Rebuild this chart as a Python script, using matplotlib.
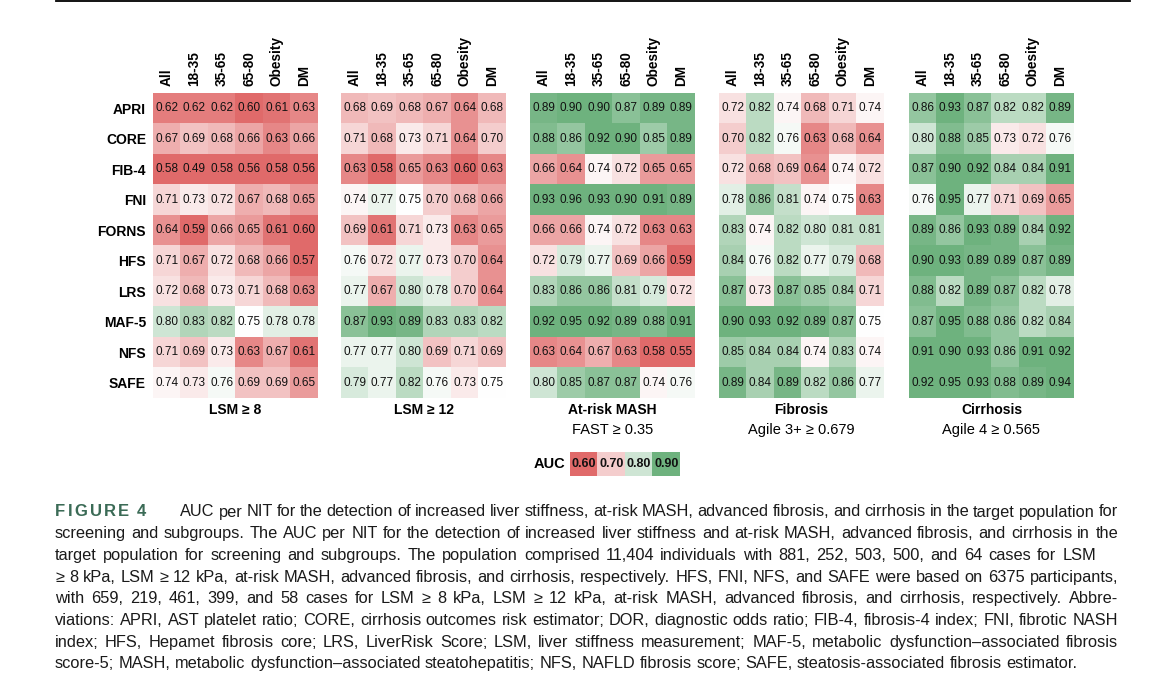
import matplotlib
matplotlib.use('Agg')
import numpy as np
import matplotlib.pyplot as plt
from matplotlib.colors import LinearSegmentedColormap, Normalize
from matplotlib.lines import Line2D

# data
nits = ['APRI', 'CORE', 'FIB-4', 'FNI', 'FORNS', 'HFS', 'LRS', 'MAF-5', 'NFS', 'SAFE']
groups = ['All', '18-35', '35-65', '65-80', 'Obesity', 'DM']

lsm8 = [[0.62, 0.62, 0.62, 0.60, 0.61, 0.63],
        [0.67, 0.69, 0.68, 0.66, 0.63, 0.66],
        [0.58, 0.49, 0.58, 0.56, 0.58, 0.56],
        [0.71, 0.73, 0.72, 0.67, 0.68, 0.65],
        [0.64, 0.59, 0.66, 0.65, 0.61, 0.60],
        [0.71, 0.67, 0.72, 0.68, 0.66, 0.57],
        [0.72, 0.68, 0.73, 0.71, 0.68, 0.63],
        [0.80, 0.83, 0.82, 0.75, 0.78, 0.78],
        [0.71, 0.69, 0.73, 0.63, 0.67, 0.61],
        [0.74, 0.73, 0.76, 0.69, 0.69, 0.65]]

lsm12 = [[0.68, 0.69, 0.68, 0.67, 0.64, 0.68],
         [0.71, 0.68, 0.73, 0.71, 0.64, 0.70],
         [0.63, 0.58, 0.65, 0.63, 0.60, 0.63],
         [0.74, 0.77, 0.75, 0.70, 0.68, 0.66],
         [0.69, 0.61, 0.71, 0.73, 0.63, 0.65],
         [0.76, 0.72, 0.77, 0.73, 0.70, 0.64],
         [0.77, 0.67, 0.80, 0.78, 0.70, 0.64],
         [0.87, 0.93, 0.89, 0.83, 0.83, 0.82],
         [0.77, 0.77, 0.80, 0.69, 0.71, 0.69],
         [0.79, 0.77, 0.82, 0.76, 0.73, 0.75]]

mash = [[0.89, 0.90, 0.90, 0.87, 0.89, 0.89],
        [0.88, 0.86, 0.92, 0.90, 0.85, 0.89],
        [0.66, 0.64, 0.74, 0.72, 0.65, 0.65],
        [0.93, 0.96, 0.93, 0.90, 0.91, 0.89],
        [0.66, 0.66, 0.74, 0.72, 0.63, 0.63],
        [0.72, 0.79, 0.77, 0.69, 0.66, 0.59],
        [0.83, 0.86, 0.86, 0.81, 0.79, 0.72],
        [0.92, 0.95, 0.92, 0.89, 0.88, 0.91],
        [0.63, 0.64, 0.67, 0.63, 0.58, 0.55],
        [0.80, 0.85, 0.87, 0.87, 0.74, 0.76]]

fibrosis = [[0.72, 0.82, 0.74, 0.68, 0.71, 0.74],
            [0.70, 0.82, 0.76, 0.63, 0.68, 0.64],
            [0.72, 0.68, 0.69, 0.64, 0.74, 0.72],
            [0.78, 0.86, 0.81, 0.74, 0.75, 0.63],
            [0.83, 0.74, 0.82, 0.80, 0.81, 0.81],
            [0.84, 0.76, 0.82, 0.77, 0.79, 0.68],
            [0.87, 0.73, 0.87, 0.85, 0.84, 0.71],
            [0.90, 0.93, 0.92, 0.89, 0.87, 0.75],
            [0.85, 0.84, 0.84, 0.74, 0.83, 0.74],
            [0.89, 0.84, 0.89, 0.82, 0.86, 0.77]]

cirrhosis = [[0.86, 0.93, 0.87, 0.82, 0.82, 0.89],
             [0.80, 0.88, 0.85, 0.73, 0.72, 0.76],
             [0.87, 0.90, 0.92, 0.84, 0.84, 0.91],
             [0.76, 0.95, 0.77, 0.71, 0.69, 0.65],
             [0.89, 0.86, 0.93, 0.89, 0.84, 0.92],
             [0.90, 0.93, 0.89, 0.89, 0.87, 0.89],
             [0.88, 0.82, 0.89, 0.87, 0.82, 0.78],
             [0.87, 0.95, 0.88, 0.86, 0.82, 0.84],
             [0.91, 0.90, 0.93, 0.86, 0.91, 0.92],
             [0.92, 0.95, 0.93, 0.88, 0.89, 0.94]]

panels = [lsm8, lsm12, mash, fibrosis, cirrhosis]
titles = ['LSM ≥ 8', 'LSM ≥ 12', 'At-risk MASH', 'Fibrosis', 'Cirrhosis']
subtitles = ['', '', 'FAST ≥ 0.35', 'Agile 3+ ≥ 0.679', 'Agile 4 ≥ 0.565']
legend_vals = [0.60, 0.70, 0.80, 0.90]

caption = [
    "AUC per NIT for the detection of increased liver stiffness, at-risk MASH, advanced fibrosis, and cirrhosis in the target population for",
    "screening and subgroups. The AUC per NIT for the detection of increased liver stiffness and at-risk MASH, advanced fibrosis, and cirrhosis in the",
    "target population for screening and subgroups. The population comprised 11,404 individuals with 881, 252, 503, 500, and 64 cases for LSM",
    "≥ 8 kPa, LSM ≥ 12 kPa, at-risk MASH, advanced fibrosis, and cirrhosis, respectively. HFS, FNI, NFS, and SAFE were based on 6375 participants,",
    "with 659, 219, 461, 399, and 58 cases for LSM ≥ 8 kPa, LSM ≥ 12 kPa, at-risk MASH, advanced fibrosis, and cirrhosis, respectively. Abbre-",
    "viations: APRI, AST platelet ratio; CORE, cirrhosis outcomes risk estimator; DOR, diagnostic odds ratio; FIB-4, fibrosis-4 index; FNI, fibrotic NASH",
    "index; HFS, Hepamet fibrosis core; LRS, LiverRisk Score; LSM, liver stiffness measurement; MAF-5, metabolic dysfunction–associated fibrosis",
    "score-5; MASH, metabolic dysfunction–associated steatohepatitis; NFS, NAFLD fibrosis score; SAFE, steatosis-associated fibrosis estimator.",
]
# right edge of each caption line (None = ragged)
line_ends = [1118, 1118, 1096, 1118, 1118, 1118, 1118, None]

plt.rcParams['font.family'] = ['Liberation Sans', 'DejaVu Sans']

W, H = 1159, 687
fig = plt.figure(figsize=(W / 100, H / 100), dpi=100)

cmap = LinearSegmentedColormap.from_list('auc', ['#e06a6a', '#ffffff', '#6eb27e'])
norm = Normalize(vmin=0.6, vmax=0.9)


def px_axes(x0, y0, w, h):
    return fig.add_axes([x0 / W, 1 - (y0 + h) / H, w / W, h / H])


lefts = [153, 341, 530, 719, 909]
top, pw, ph = 93, 165, 305

for i, data in enumerate(panels):
    ax = px_axes(lefts[i], top, pw, ph)
    arr = np.array(data)
    ax.imshow(arr, cmap=cmap, norm=norm, aspect='auto', interpolation='nearest')
    for r in range(arr.shape[0]):
        for c in range(arr.shape[1]):
            ax.text(c, r, f'{arr[r, c]:.2f}', ha='center', va='center', fontsize=8.5, color='#111111')
    ax.xaxis.tick_top()
    ax.set_xticks(range(len(groups)))
    ax.set_xticklabels(groups, rotation=90, fontsize=9.8, fontweight='bold')
    ax.set_yticks(range(len(nits)))
    if i == 0:
        ax.set_yticklabels(nits, fontsize=10, fontweight='bold')
    else:
        ax.set_yticklabels([])
    ax.tick_params(length=0, pad=5)
    for s in ax.spines.values():
        s.set_visible(False)
    cx = (lefts[i] + pw / 2) / W
    fig.text(cx, 1 - 410 / H, titles[i], ha='center', va='center', fontsize=10, fontweight='bold')
    if subtitles[i]:
        fig.text(cx, 1 - 430 / H, subtitles[i], ha='center', va='center', fontsize=10.5)

# legend
lax = px_axes(570, 452, 110, 24)
lax.imshow(np.array([legend_vals]), cmap=cmap, norm=norm, aspect='auto')
for k, v in enumerate(legend_vals):
    lax.text(k, 0, f'{v:.2f}', ha='center', va='center', fontsize=9, fontweight='bold', color='#111111')
lax.axis('off')
fig.text(565 / W, 1 - 464 / H, 'AUC', ha='right', va='center', fontsize=10.5, fontweight='bold')

# top rule
fig.add_artist(Line2D([56 / W, 1130 / W], [1 - 1 / H, 1 - 1 / H], color='black', lw=1.3))

# caption
renderer = fig.canvas.get_renderer()


def width_of(s, **kw):
    t = fig.text(0, 0, s, **kw)
    w = t.get_window_extent(renderer).width
    t.remove()
    return w


def place_words(words, x0, y, x1=None, gap=None, **kw):
    widths = [width_of(w, **kw) for w in words]
    if x1 is not None and len(words) > 1:
        gap = (x1 - x0 - sum(widths)) / (len(words) - 1)
    x = x0
    for w, wd in zip(words, widths):
        fig.text(x / W, 1 - y / H, w, ha='left', va='center', **kw)
        x += wd + gap


cap_kw = dict(fontsize=11.8, color='#1a1a1a')
space = width_of('x x', **cap_kw) - width_of('xx', **cap_kw)

# letter-spaced figure label
fig_kw = dict(fontsize=12, fontweight='bold', color='#3b6b56')
x = 55
for ch in 'FIGURE 4':
    if ch != ' ':
        fig.text(x / W, 1 - 512 / H, ch, ha='left', va='center', **fig_kw)
        x += width_of(ch, **fig_kw) + 2.3
    else:
        x += 5

y = 512
for j, line in enumerate(caption):
    x0 = 180 if j == 0 else 55
    words = line.split(' ')
    place_words(words, x0, y, x1=line_ends[j], gap=space, **cap_kw)
    y += 21.7

plt.savefig('out.png', dpi=100)
